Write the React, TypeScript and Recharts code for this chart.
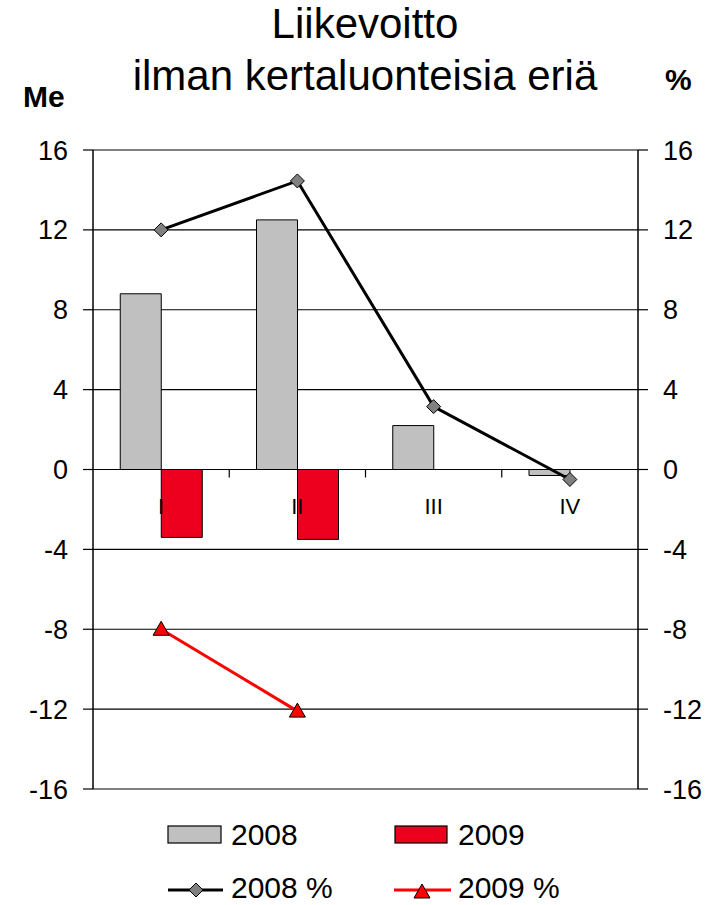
import React from 'react';
import { ComposedChart, Bar, Line, Scatter, XAxis, YAxis, CartesianGrid, LabelList } from 'recharts';

const quarters = ['I', 'II', 'III', 'IV'];
const profit2008 = [8.8, 12.5, 2.2, -0.3];
const profit2009: (number | null)[] = [-3.4, -3.5, null, null];
const pct2008 = [12.0, 14.45, 3.15, -0.5];
const pct2009: (number | null)[] = [-8.0, -12.1, null, null];
const yTicks = [-16, -12, -8, -4, 0, 4, 8, 12, 16];
// category boundaries (between quarters) on the zero line
const boundaries = [1, 2, 3];

const data = quarters.map((q, i) => ({
  q,
  p2008: profit2008[i],
  p2009: profit2009[i],
  c2008: pct2008[i],
  c2009: pct2009[i],
  zero: 0,
}));
const boundaryData = boundaries.map((b) => ({ b, y: 0 }));

const FONT = '"Liberation Sans", Arial, sans-serif';
const GRAY = '#C0C0C0';
const BARRED = '#EC001E';
const LINERED = '#FF0000';

const Diamond = (props: any) => {
  const { cx, cy } = props;
  if (cx == null || cy == null || isNaN(cy)) return <g />;
  const r = 7;
  return (
    <path
      d={`M${cx},${cy - r}L${cx + r},${cy}L${cx},${cy + r}L${cx - r},${cy}Z`}
      fill="#808080"
      stroke="#000"
      strokeWidth={1}
    />
  );
};

const Triangle = (props: any) => {
  const { cx, cy } = props;
  if (cx == null || cy == null || isNaN(cy)) return <g />;
  return (
    <path
      d={`M${cx},${cy - 8}L${cx + 8},${cy + 6}L${cx - 8},${cy + 6}Z`}
      fill={LINERED}
      stroke="#000"
      strokeWidth={1}
    />
  );
};

const TickMark = (props: any) => {
  const { cx, cy } = props;
  if (cx == null || cy == null) return <g />;
  return <line x1={cx} x2={cx} y1={cy} y2={cy + 8} stroke="#000" strokeWidth={1.2} />;
};

const CategoryLabel = (props: any) => {
  const vb = props.viewBox || {};
  const x = props.x ?? vb.x;
  const y = props.y ?? vb.y;
  return (
    <text x={x} y={y + 44} textAnchor="middle" fontSize={22} fontFamily={FONT} fill="#000">
      {props.value}
    </text>
  );
};

export default function App() {
  return (
    <div style={{ position: 'absolute', left: 0, top: 0, width: 720, height: 905, background: '#fff', fontFamily: FONT }}>
      <ComposedChart
        width={720}
        height={905}
        data={data}
        margin={{ top: 150, bottom: 116, left: 13, right: 2 }}
        barGap={0}
        barCategoryGap="20%"
      >
        <CartesianGrid yAxisId="left" vertical={false} stroke="#000" strokeWidth={1.2} strokeOpacity={1} />
        <XAxis dataKey="q" hide />
        <XAxis xAxisId="b" type="number" dataKey="b" domain={[0, 4]} hide />
        <YAxis
          yAxisId="left"
          orientation="left"
          width={80}
          domain={[-16, 16]}
          ticks={yTicks}
          interval={0}
          tickSize={10}
          tickMargin={15}
          axisLine={{ stroke: '#000', strokeWidth: 1.5 }}
          tickLine={{ stroke: '#000', strokeWidth: 1.2 }}
          tick={{ fill: '#000', fontSize: 27, fontFamily: FONT }}
          allowDataOverflow
        />
        <YAxis
          yAxisId="right"
          orientation="right"
          width={80}
          domain={[-16, 16]}
          ticks={yTicks}
          interval={0}
          tickSize={10}
          tickMargin={15}
          axisLine={{ stroke: '#000', strokeWidth: 1.5 }}
          tickLine={{ stroke: '#000', strokeWidth: 1.2 }}
          tick={{ fill: '#000', fontSize: 27, fontFamily: FONT }}
          allowDataOverflow
        />
        <Scatter
          xAxisId="b"
          yAxisId="left"
          data={boundaryData}
          dataKey="y"
          shape={<TickMark />}
          isAnimationActive={false}
          legendType="none"
        />
        <Line
          yAxisId="left"
          dataKey="zero"
          stroke="none"
          dot={false}
          activeDot={false}
          isAnimationActive={false}
          legendType="none"
        >
          <LabelList dataKey="q" content={CategoryLabel} />
        </Line>
        <Bar yAxisId="left" dataKey="p2008" fill={GRAY} stroke="#000" strokeWidth={1} isAnimationActive={false} />
        <Bar yAxisId="left" dataKey="p2009" fill={BARRED} stroke="#000" strokeWidth={1} isAnimationActive={false} />
        <Line
          yAxisId="right"
          dataKey="c2008"
          stroke="#000"
          strokeWidth={3}
          dot={<Diamond />}
          activeDot={false}
          isAnimationActive={false}
        />
        <Line
          yAxisId="right"
          dataKey="c2009"
          stroke={LINERED}
          strokeWidth={3}
          dot={<Triangle />}
          activeDot={false}
          isAnimationActive={false}
        />
      </ComposedChart>
      <svg
        width={720}
        height={905}
        style={{ position: 'absolute', left: 0, top: 0, pointerEvents: 'none' }}
        fontFamily={FONT}
      >
        <text x={365} y={38} textAnchor="middle" fontSize={42} fill="#000">Liikevoitto</text>
        <text x={365} y={90} textAnchor="middle" fontSize={42} fill="#000">ilman kertaluonteisia eriä</text>
        <text x={23} y={107} fontSize={30} fontWeight="bold" fill="#000">Me</text>
        <text x={665} y={90} fontSize={30} fontWeight="bold" fill="#000">%</text>

        <rect x={168} y={826} width={53} height={17} fill={GRAY} stroke="#000" strokeWidth={1.2} />
        <text x={231} y={845} fontSize={30} fill="#000">2008</text>
        <rect x={395} y={826} width={52} height={17} fill={BARRED} stroke="#000" strokeWidth={1.2} />
        <text x={458} y={845} fontSize={30} fill="#000">2009</text>

        <line x1={168} x2={223} y1={890} y2={890} stroke="#000" strokeWidth={3} />
        <Diamond cx={196} cy={890} />
        <text x={231} y={898} fontSize={30} fill="#000">2008 %</text>
        <line x1={394} x2={451} y1={890} y2={890} stroke={LINERED} strokeWidth={3} />
        <Triangle cx={422} cy={892} />
        <text x={458} y={898} fontSize={30} fill="#000">2009 %</text>
      </svg>
    </div>
  );
}
